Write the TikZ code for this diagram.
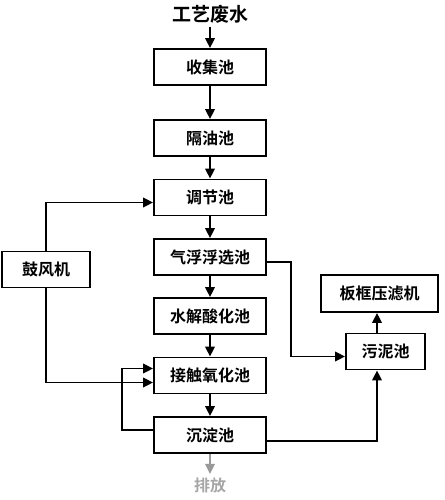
\documentclass[tikz,border=0pt]{standalone}
\usepackage{fontspec}
\newfontfamily\cjk{Noto Sans CJK SC Bold}
\usetikzlibrary{arrows.meta}

\tikzset{
  box/.style={draw, line width=1.9pt, minimum width=112pt, minimum height=36pt,
    inner sep=0pt, font=\cjk\fontsize{16}{18}\selectfont},
  flow/.style={line width=1.9pt, -{Triangle[length=10pt,width=9.5pt]}},
}

\begin{document}
\begin{tikzpicture}[x=1pt, y=-1pt]
  \useasboundingbox (0,0) rectangle (444,500);

  % main column
  \node[font=\cjk\fontsize{19}{21}\selectfont] (in) at (210,14) {工艺废水};
  \foreach \n/\t/\y in {sj/收集池/67, gy/隔油池/138, tj/调节池/197.5,
      qf/气浮浮选池/257, sj2/水解酸化池/316, jc/接触氧化池/375.5, cd/沉淀池/435} {
    \node[box] (\n) at (210,\y) {\t};
  }
  \node[font=\cjk\fontsize{16}{18}\selectfont, text=black!35] (out) at (210,485) {排放};

  % side boxes
  \node[box, minimum width=88pt] (gf) at (46,269.5) {鼓风机};
  \node[box, minimum width=79pt] (wn) at (385.5,351.5) {污泥池};
  \node[box, minimum width=117pt, minimum height=37pt] (bk) at (379.5,293.5) {板框压滤机};

  % connectors
  \draw[flow] (in) -- (sj);
  \foreach \a/\b in {sj/gy, gy/tj, tj/qf, qf/sj2, sj2/jc, jc/cd} {
    \draw[flow] (\a) -- (\b);
  }
  \draw[flow, draw=black!40] (cd) -- (out);

  \draw[flow] (gf.north) |- ([yshift=-5pt]tj.west);
  \draw[flow] (gf.south) |- ([yshift=-7pt]jc.west);
  \draw[flow] ([yshift=5pt]cd.west) -- ++(-31,0) |- ([yshift=7pt]jc.west);

  \draw[flow] ([yshift=-5pt]qf.east) -- ++(24,0) |- ([yshift=-5pt]wn.west);
  \draw[flow] ([yshift=-6pt]cd.east) -| ([xshift=-8.5pt]wn.south);
  \draw[flow] ([xshift=-8.5pt]wn.north) -- ([xshift=-2.5pt]bk.south);
\end{tikzpicture}
\end{document}
